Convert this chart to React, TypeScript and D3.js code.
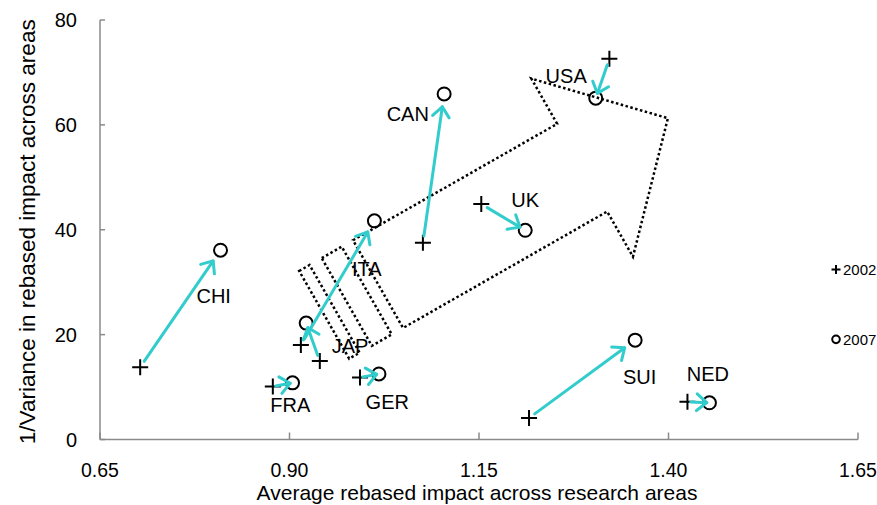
import React from "react";
import * as d3 from "d3";

const countries = ["CHI", "FRA", "JAP", "ITA", "GER", "CAN", "UK", "USA", "SUI", "NED"];
const impact2002 = [0.703, 0.878, 0.940, 0.915, 0.993, 1.076, 1.153, 1.322, 1.216, 1.425];
const invVar2002 = [13.8, 10.1, 14.95, 18.0, 11.8, 37.5, 44.9, 72.6, 4.1, 7.2];
const impact2007 = [0.809, 0.904, 0.922, 1.012, 1.018, 1.104, 1.211, 1.304, 1.356, 1.454];
const invVar2007 = [36.1, 10.8, 22.2, 41.7, 12.5, 65.9, 39.9, 65.1, 18.95, 7.0];
const labelX = [0.800, 0.901, 0.980, 1.002, 1.029, 1.056, 1.211, 1.265, 1.362, 1.452];
const labelY = [26.0, 5.24, 16.5, 31.1, 5.8, 60.7, 44.3, 67.9, 10.6, 11.1];

const xTicks = [0.65, 0.9, 1.15, 1.4, 1.65];
const yTicks = [0, 20, 40, 60, 80];
const legendLabels = ["2002", "2007"];
const legendY = [32.4, 19.1];
const legendX = 1.621;

const xTitle = "Average rebased impact across research areas";
const yTitle = "1/Variance in rebased impact across areas";

// decorative block-arrow (anchor in data units, shape in local pixel units)
const arrowAnchor = { x: 0.9838, y: 38.0, angleDeg: -29.7 };
const arrowOutline: [number, number][] = [
  [0, 0], [235, 0], [235, -52], [334, 50], [235, 153], [235, 101], [0, 101],
];
const arrowStripes: [number, number][][] = [
  [[-62, 0], [-50, 0], [-50, 101], [-62, 101]],
  [[-36, 0], [-13, 0], [-13, 101], [-36, 101]],
];

const W = 877;
const H = 505;
const CYAN = "#33CCCC";
const AXIS = "#8a8a8a";
const FONT = "'Liberation Sans', Arial, sans-serif";

export default function App() {
  const x = d3.scaleLinear().domain([0.65, 1.65]).range([100, 858]);
  const y = d3.scaleLinear().domain([0, 80]).range([439.5, 20]);

  const ax = x(arrowAnchor.x);
  const ay = y(arrowAnchor.y);
  const th = (arrowAnchor.angleDeg * Math.PI) / 180;
  const c = Math.cos(th);
  const s = Math.sin(th);
  const toScreen = ([u, v]: [number, number]): [number, number] => [
    ax + u * c - v * s,
    ay + u * s + v * c,
  ];
  const line = d3.line<[number, number]>().curve(d3.curveLinearClosed);

  const arrows = countries.map((name, i) => {
    const x0 = x(impact2002[i]);
    const y0 = y(invVar2002[i]);
    const x1 = x(impact2007[i]);
    const y1 = y(invVar2007[i]);
    const dx = x1 - x0;
    const dy = y1 - y0;
    const len = Math.hypot(dx, dy);
    const ux = dx / len;
    const uy = dy / len;
    const st = Math.min(7, len * 0.15);
    const en = Math.min(13, len * 0.12);
    const sx = x0 + ux * st;
    const sy = y0 + uy * st;
    const tx = x1 - ux * en;
    const ty = y1 - uy * en;
    const a = (40 * Math.PI) / 180;
    const L = 13;
    const bx = -ux;
    const by = -uy;
    const r1 = [tx + L * (bx * Math.cos(a) - by * Math.sin(a)), ty + L * (bx * Math.sin(a) + by * Math.cos(a))];
    const r2 = [tx + L * (bx * Math.cos(-a) - by * Math.sin(-a)), ty + L * (bx * Math.sin(-a) + by * Math.cos(-a))];
    return { name, sx, sy, tx, ty, r1, r2 };
  });

  const plus = (cx: number, cy: number, h: number) =>
    `M${cx - h},${cy}H${cx + h}M${cx},${cy - h}V${cy + h}`;

  return (
    <svg
      width={W}
      height={H}
      style={{ position: "absolute", left: 0, top: 0, background: "#fff" }}
      fontFamily={FONT}
    >
      <rect width={W} height={H} fill="#fff" />
      {/* axes */}
      <line x1={x(0.65)} x2={x(0.65)} y1={y(80)} y2={y(0)} stroke={AXIS} strokeWidth={1.5} />
      <line x1={x(0.65)} x2={x(1.65)} y1={y(0)} y2={y(0)} stroke={AXIS} strokeWidth={1.5} />
      {yTicks.map((t) => (
        <g key={"y" + t}>
          <line x1={x(0.65)} x2={x(0.65) + 5} y1={y(t)} y2={y(t)} stroke={AXIS} strokeWidth={1.5} />
          <text x={77} y={y(t)} dy="0.35em" textAnchor="end" fontSize={20} fill="#000">
            {t}
          </text>
        </g>
      ))}
      {xTicks.map((t) => (
        <g key={"x" + t}>
          <line x1={x(t)} x2={x(t)} y1={y(0)} y2={y(0) - 7} stroke={AXIS} strokeWidth={1.5} />
          <text x={x(t)} y={477} textAnchor="middle" fontSize={19.5} fill="#000">
            {t.toFixed(2)}
          </text>
        </g>
      ))}
      <text x={477} y={500} textAnchor="middle" fontSize={21} fill="#000">
        {xTitle}
      </text>
      <text
        transform={`translate(35,${(y(0) + y(80)) / 2 + 2}) rotate(-90)`}
        textAnchor="middle"
        fontSize={22.5}
        fill="#000"
      >
        {yTitle}
      </text>

      {/* dotted block arrow */}
      <path
        d={line(arrowOutline.map(toScreen)) || ""}
        fill="none"
        stroke="#000"
        strokeWidth={2.5}
        strokeDasharray="2.5 2.5"
      />
      {arrowStripes.map((st, i) => (
        <path
          key={"s" + i}
          d={line(st.map(toScreen)) || ""}
          fill="none"
          stroke="#000"
          strokeWidth={2.5}
          strokeDasharray="2.5 2.5"
        />
      ))}

      {/* markers */}
      {countries.map((n, i) => (
        <path key={"p" + n} d={plus(x(impact2002[i]), y(invVar2002[i]), 8)} stroke="#000" strokeWidth={2} />
      ))}
      {countries.map((n, i) => (
        <circle key={"c" + n} cx={x(impact2007[i])} cy={y(invVar2007[i])} r={6.5} fill="none" stroke="#000" strokeWidth={2} />
      ))}

      {/* movement arrows */}
      {arrows.map((a) => (
        <g key={"a" + a.name} stroke={CYAN} strokeWidth={3} fill="none" strokeLinecap="round" strokeLinejoin="round">
          <line x1={a.sx} y1={a.sy} x2={a.tx} y2={a.ty} />
          <polyline points={`${a.r1[0]},${a.r1[1]} ${a.tx},${a.ty} ${a.r2[0]},${a.r2[1]}`} />
        </g>
      ))}

      {/* country labels */}
      {countries.map((n, i) => (
        <text key={"l" + n} x={x(labelX[i])} y={y(labelY[i])} textAnchor="middle" fontSize={20} fill="#000">
          {n}
        </text>
      ))}

      {/* legend */}
      <path d={plus(x(legendX), y(legendY[0]), 4.5)} stroke="#000" strokeWidth={2} />
      <circle cx={x(legendX)} cy={y(legendY[1])} r={3.8} fill="none" stroke="#000" strokeWidth={2} />
      {legendLabels.map((l, i) => (
        <text key={l} x={x(legendX) + 7} y={y(legendY[i])} dy="0.35em" fontSize={15} fill="#000">
          {l}
        </text>
      ))}
    </svg>
  );
}
